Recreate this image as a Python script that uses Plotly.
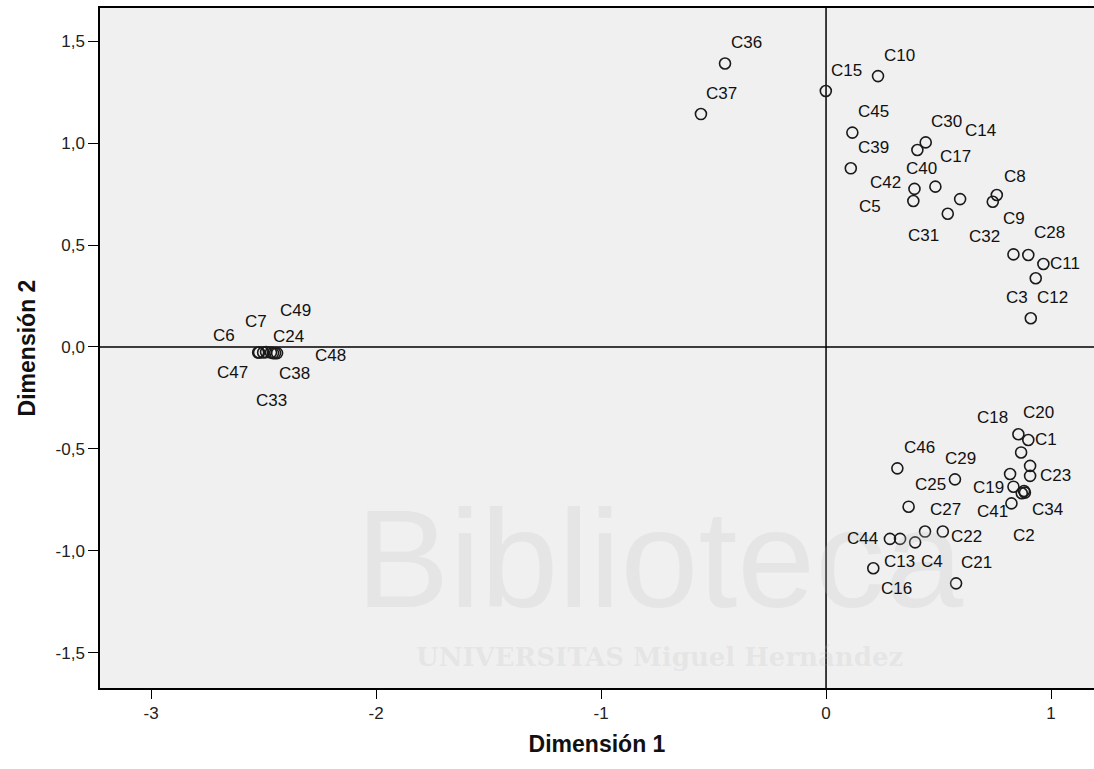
import plotly.graph_objects as go

# ---- data: point names and coordinates (Dimensión 1, Dimensión 2) ----
names = [
    "C36", "C37", "C15", "C10", "C45", "C39", "C30", "C14", "C42", "C5",
    "C40", "C17", "C31", "C8", "C9", "C32", "C28", "C11", "C3", "C12",
    "C6", "C47", "C7", "C33", "C49", "C24", "C38", "C48",
    "C46", "C29", "C25", "C27", "C22", "C44", "C13", "C4", "C16", "C21",
    "C20", "C1", "C18", "", "C23", "C19", "", "C2", "C34", "", "C41",
]
dim1 = [
    -0.449, -0.556, -0.001, 0.231, 0.117, 0.110, 0.443, 0.406, 0.393, 0.388,
    0.486, 0.596, 0.541, 0.759, 0.741, 0.833, 0.899, 0.966, 0.932, 0.910,
    -2.524, -2.520, -2.502, -2.489, -2.467, -2.458, -2.449, -2.440,
    0.317, 0.573, 0.367, 0.440, 0.519, 0.284, 0.329, 0.396, 0.210, 0.578,
    0.855, 0.899, 0.867, 0.907, 0.907, 0.818, 0.833, 0.870, 0.884, 0.880, 0.824,
]
dim2 = [
    1.390, 1.142, 1.255, 1.328, 1.051, 0.876, 1.003, 0.966, 0.775, 0.716,
    0.786, 0.725, 0.653, 0.745, 0.712, 0.454, 0.451, 0.407, 0.337, 0.141,
    -0.027, -0.027, -0.027, -0.025, -0.027, -0.030, -0.030, -0.030,
    -0.595, -0.649, -0.783, -0.905, -0.905, -0.941, -0.941, -0.958, -1.085, -1.159,
    -0.428, -0.456, -0.517, -0.583, -0.632, -0.623, -0.685, -0.717, -0.714, -0.706, -0.767,
]

# label placement offsets in screen pixels (dx right, dy down) -- layout only
label_offsets = [
    (21, -21), (21, -21), (21, -21), (21, -21), (21, -21), (23, -21), (21, -21), (63, -19), (-29, -6), (-43, 6),
    (-14, -18), (-5, -43), (-24, 22), (18, -19), (21, 17), (-29, -18), (21, -22), (22, 0), (-19, 19), (22, -21),
    (-34, -17), (-27, 20), (-7, -31), (5, 48), (25, -42), (15, -17), (19, 20), (53, 2),
    (22, -21), (6, -21), (22, -22), (20, -22), (24, 5), (-27, 0), (-1, 23), (17, 19), (23, 20), (20, -21),
    (20, -22), (18, 0), (-29, -35), (0, 0), (25, 0), (-22, 13), (0, 0), (2, 42), (23, 17), (0, 0), (-19, 8),
]

x_ticks = [-3, -2, -1, 0, 1]
x_ticktext = ["-3", "-2", "-1", "0", "1"]
y_ticks = [-1.5, -1.0, -0.5, 0.0, 0.5, 1.0, 1.5]
y_ticktext = ["-1,5", "-1,0", "-0,5", "0,0", "0,5", "1,0", "1,5"]

FONT = "Liberation Sans, Arial, sans-serif"

fig = go.Figure()

fig.add_trace(go.Scatter(
    x=dim1, y=dim2, mode="markers",
    marker=dict(symbol="circle-open", size=11, color="#1a1a1a", line=dict(width=1.6, color="#1a1a1a")),
    text=names, hoverinfo="text", showlegend=False,
))

annotations = []
# faint watermark (drawn first, behind labels)
annotations.append(dict(
    x=0.563, y=0.19, xref="paper", yref="paper", text="Biblioteca", showarrow=False,
    xanchor="center", yanchor="middle",
    font=dict(family=FONT, size=140, color="rgba(190,190,190,0.22)"),
))
annotations.append(dict(
    x=0.563, y=0.045, xref="paper", yref="paper", text="<b>UNIVERSITAS Miguel Hernández</b>", showarrow=False,
    xanchor="center", yanchor="middle",
    font=dict(family="DejaVu Serif, serif", size=26, color="rgba(190,190,190,0.22)"),
))

for n, xv, yv, (dx, dy) in zip(names, dim1, dim2, label_offsets):
    if not n:
        continue
    annotations.append(dict(
        x=xv, y=yv, xref="x", yref="y", text=n, showarrow=False,
        xanchor="center", yanchor="middle", xshift=dx, yshift=-dy,
        font=dict(family=FONT, size=17, color="#111111"),
    ))

fig.add_hline(y=0, line=dict(color="black", width=1.5), layer="below")
fig.add_vline(x=0, line=dict(color="black", width=1.5), layer="below")

fig.update_layout(
    width=1094, height=769,
    margin=dict(l=100, r=0, t=8, b=81),
    paper_bgcolor="white", plot_bgcolor="#f0f0f0",
    font=dict(family=FONT, size=17, color="#222222"),
    annotations=annotations,
    xaxis=dict(
        range=[-3.227, 1.191], tickvals=x_ticks, ticktext=x_ticktext,
        showgrid=False, zeroline=False, showline=True, linecolor="black", linewidth=1.5, mirror=True,
        ticks="outside", ticklen=9, tickwidth=1.2, tickcolor="black",
        tickfont=dict(family=FONT, size=17, color="#222222"),
        title=dict(text="<b>Dimensión 1</b>", font=dict(family=FONT, size=23, color="#111111"), standoff=14),
    ),
    yaxis=dict(
        range=[-1.672, 1.662], tickvals=y_ticks, ticktext=y_ticktext,
        showgrid=False, zeroline=False, showline=True, linecolor="black", linewidth=1.5, mirror=False,
        ticks="outside", ticklen=10, tickwidth=1.2, tickcolor="black",
        tickfont=dict(family=FONT, size=17, color="#222222"),
        title=dict(text="<b>Dimensión 2</b>", font=dict(family=FONT, size=23, color="#111111"), standoff=14),
    ),
)

fig.write_html("out.html")
